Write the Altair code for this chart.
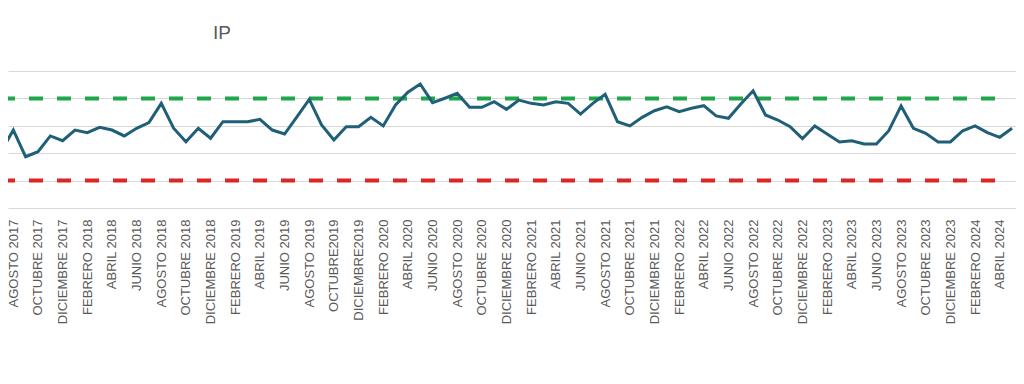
import json
import altair as alt
import pandas as pd

months = [
    "JULIO 2017", "AGOSTO 2017", "SEPTIEMBRE 2017", "OCTUBRE 2017", "NOVIEMBRE 2017", "DICIEMBRE 2017",
    "ENERO 2018", "FEBRERO 2018", "MARZO 2018", "ABRIL 2018", "MAYO 2018", "JUNIO 2018",
    "JULIO 2018", "AGOSTO 2018", "SEPTIEMBRE 2018", "OCTUBRE 2018", "NOVIEMBRE 2018", "DICIEMBRE 2018",
    "ENERO 2019", "FEBRERO 2019", "MARZO 2019", "ABRIL 2019", "MAYO 2019", "JUNIO 2019",
    "JULIO 2019", "AGOSTO 2019", "SEPTIEMBRE 2019", "OCTUBRE2019", "NOVIEMBRE 2019", "DICIEMBRE2019",
    "ENERO 2020", "FEBRERO 2020", "MARZO 2020", "ABRIL 2020", "MAYO 2020", "JUNIO 2020",
    "JULIO 2020", "AGOSTO 2020", "SEPTIEMBRE 2020", "OCTUBRE 2020", "NOVIEMBRE 2020", "DICIEMBRE 2020",
    "ENERO 2021", "FEBRERO 2021", "MARZO 2021", "ABRIL 2021", "MAYO 2021", "JUNIO 2021",
    "JULIO 2021", "AGOSTO 2021", "SEPTIEMBRE 2021", "OCTUBRE 2021", "NOVIEMBRE 2021", "DICIEMBRE 2021",
    "ENERO 2022", "FEBRERO 2022", "MARZO 2022", "ABRIL 2022", "MAYO 2022", "JUNIO 2022",
    "JULIO 2022", "AGOSTO 2022", "SEPTIEMBRE 2022", "OCTUBRE 2022", "NOVIEMBRE 2022", "DICIEMBRE 2022",
    "ENERO 2023", "FEBRERO 2023", "MARZO 2023", "ABRIL 2023", "MAYO 2023", "JUNIO 2023",
    "JULIO 2023", "AGOSTO 2023", "SEPTIEMBRE 2023", "OCTUBRE 2023", "NOVIEMBRE 2023", "DICIEMBRE 2023",
    "ENERO 2024", "FEBRERO 2024", "MARZO 2024", "ABRIL 2024", "MAYO 2024",
]

ip_values = [
    41.1, 56.9, 37.4, 41.1, 52.6, 49.1,
    56.9, 55.0, 58.9, 56.9, 52.6, 58.2,
    62.3, 76.4, 58.2, 48.4, 58.2, 50.9,
    63.0, 63.0, 63.0, 64.7, 56.9, 54.0,
    66.6, 79.3, 60.6, 49.6, 59.3, 59.3,
    66.2, 59.9, 75.2, 84.5, 90.5, 76.9,
    80.1, 83.7, 73.5, 73.5, 77.6, 72.0,
    78.8, 76.4, 75.2, 77.6, 76.4, 68.6,
    76.4, 83.0, 63.0, 59.9, 66.2, 71.0,
    73.9, 70.3, 72.8, 74.7, 67.2, 65.5,
    75.9, 85.6, 67.9, 64.2, 59.3, 50.6,
    59.9, 54.0, 48.2, 49.1, 46.7, 46.7,
    56.4, 74.5, 58.2, 54.5, 48.2, 48.2,
    56.4, 59.9, 55.0, 51.6, 58.2,
]

meta_superior = 80
meta_inferior = 20
n_meta = 82  # threshold lines run up to ABRIL 2024

tick_idx = list(range(1, 82, 2))
grid_vals = [0, 20, 40, 60, 80, 100]

df = pd.DataFrame({"idx": list(range(len(months))), "mes": months, "IP": ip_values})
thr = pd.DataFrame({
    "idx": list(range(n_meta)) * 2,
    "valor": [meta_superior] * n_meta + [meta_inferior] * n_meta,
    "serie": ["superior"] * n_meta + ["inferior"] * n_meta,
})

label_expr = json.dumps(months, ensure_ascii=False) + "[datum.value]"

x_scale = alt.Scale(domain=[0.568, 82.32], nice=False, zero=False)
y_scale = alt.Scale(domain=[0, 100], nice=False, zero=True)

x_axis = alt.Axis(
    values=tick_idx, tickCount=len(tick_idx), labelExpr=label_expr, labelAngle=-90,
    grid=False, ticks=False, domain=False, title=None,
    labelFontSize=13, labelColor="#595959", labelFont="Liberation Sans",
    labelPadding=11, labelOverlap=False,
)
y_axis = alt.Axis(
    values=grid_vals, tickCount=len(grid_vals), grid=True, gridColor="#d9d9d9", gridWidth=1,
    labels=False, ticks=False, domain=False, title=None,
)

thr_chart = alt.Chart(thr).mark_line(strokeWidth=4, strokeDash=[14, 14], clip=True).encode(
    x=alt.X("idx:Q", scale=x_scale, axis=x_axis),
    y=alt.Y("valor:Q", scale=y_scale, axis=y_axis),
    color=alt.Color("serie:N", scale=alt.Scale(domain=["superior", "inferior"],
                                               range=["#1fa64a", "#e02424"]), legend=None),
    detail="serie:N",
)

line_chart = alt.Chart(df).mark_line(strokeWidth=3, color="#1f5f78", clip=True).encode(
    x=alt.X("idx:Q", scale=x_scale, axis=x_axis),
    y=alt.Y("IP:Q", scale=y_scale, axis=y_axis),
)

chart = alt.layer(thr_chart, line_chart).properties(
    width=1008,
    height=137,
    title=alt.TitleParams(
        "IP", anchor="start", frame="group", dx=205, fontSize=19,
        font="Liberation Sans", color="#595959", fontWeight="normal",
        baseline="alphabetic", offset=13,
    ),
    autosize=alt.AutoSizeParams(type="none"),
    padding={"left": 0, "top": 63, "right": 0, "bottom": 150},
).configure_view(stroke=None)

chart.save("out.html", embed_options={"renderer": "svg", "actions": False})
